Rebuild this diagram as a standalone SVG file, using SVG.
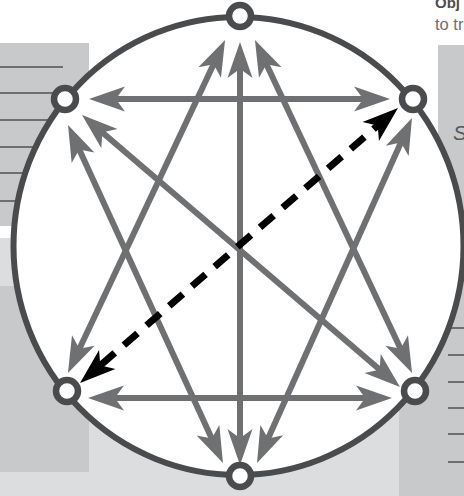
<svg xmlns="http://www.w3.org/2000/svg" width="464" height="496" viewBox="0 0 464 496">
<style>
.pd{fill:#c8c9cb}
.pl{fill:#dcdddf}
.rule{stroke:#6d6e70;stroke-width:2}
.ring{fill:#fff;stroke:#4a4b4d;stroke-width:6}
.node{fill:#fff;stroke:#4a4b4d;stroke-width:6.5}
.ar{fill:none;stroke:#6f7072;stroke-width:6;marker-start:url(#ag);marker-end:url(#ag)}
.dash{fill:none;stroke:#000;stroke-width:7;stroke-dasharray:18 12;marker-start:url(#ab);marker-end:url(#ab)}
.t{font-family:"Liberation Sans",Arial,sans-serif}
</style>
<defs>
<marker id="ag" markerUnits="userSpaceOnUse" orient="auto-start-reverse" refX="8" refY="0" markerWidth="40" markerHeight="30" viewBox="0 -15 40 30" overflow="visible">
<path d="M36,0 L0,-12.5 L7,-3 L7,3 L0,12.5 Z" fill="#6f7072"/>
</marker>
<marker id="ab" markerUnits="userSpaceOnUse" orient="auto-start-reverse" refX="8" refY="0" markerWidth="40" markerHeight="30" viewBox="0 -15 40 30" overflow="visible">
<path d="M36,0 L0,-12.5 L7,-3 L7,3 L0,12.5 Z" fill="#000"/>
</marker>
</defs>
<g id="background">
<rect class="pl" x="0" y="238" width="464" height="258"/>
<rect class="pd" x="0" y="43" width="89" height="183"/>
<rect class="pd" x="0" y="286" width="89" height="186"/>
<rect class="pd" x="438" y="45" width="26" height="451"/>
<rect class="pd" x="399" y="300" width="65" height="196"/>
<line class="rule" x1="0" y1="67" x2="63" y2="67"/>
<line class="rule" x1="0" y1="93" x2="89" y2="93"/>
<line class="rule" x1="0" y1="120" x2="89" y2="120"/>
<line class="rule" x1="0" y1="147" x2="89" y2="147"/>
<line class="rule" x1="0" y1="173" x2="89" y2="173"/>
<line class="rule" x1="0" y1="201" x2="89" y2="201"/>
<line class="rule" x1="448" y1="328" x2="464" y2="328"/>
<line class="rule" x1="448" y1="355" x2="464" y2="355"/>
<line class="rule" x1="448" y1="382" x2="464" y2="382"/>
<line class="rule" x1="448" y1="408" x2="464" y2="408"/>
<line class="rule" x1="448" y1="434" x2="464" y2="434"/>
<line class="rule" x1="448" y1="462" x2="464" y2="462"/>
<text class="t" x="435" y="8" font-size="15" font-weight="bold" fill="#4d4d4f">Obj</text>
<text class="t" x="435" y="30" font-size="16.5" fill="#6d6e70">to tr</text>
<text class="t" x="453" y="140" font-size="21" font-style="italic" fill="#58595b">S</text>
</g>
<ellipse id="cycle" class="ring" cx="238.5" cy="246" rx="225" ry="229"/>
<g id="connectors">
<line class="ar" x1="117" y1="99" x2="362" y2="99"/>
<line class="ar" x1="116" y1="398" x2="364" y2="398"/>
<line class="ar" x1="240" y1="70" x2="240" y2="437"/>
<line class="ar" x1="213.1" y1="65.3" x2="79.9" y2="347.7"/>
<line class="ar" x1="266.9" y1="65.3" x2="400.1" y2="347.7"/>
<line class="ar" x1="211.3" y1="437.5" x2="79.7" y2="150.5"/>
<line class="ar" x1="268.5" y1="437.5" x2="400.5" y2="143.5"/>
<line class="ar" x1="103.3" y1="133.2" x2="378.7" y2="368.8"/>
<line class="dash" x1="101.2" y1="364.7" x2="376.8" y2="126.3"/>
</g>
<g id="n-top"><circle class="node" cx="240" cy="16" r="11"/></g>
<g id="n-tl"><circle class="node" cx="65" cy="99" r="11"/></g>
<g id="n-tr"><circle class="node" cx="413" cy="99" r="11"/></g>
<g id="n-bl"><circle class="node" cx="67" cy="391" r="11"/></g>
<g id="n-br"><circle class="node" cx="415" cy="391" r="11"/></g>
<g id="n-bottom"><circle class="node" cx="240" cy="476" r="11"/></g>
</svg>
